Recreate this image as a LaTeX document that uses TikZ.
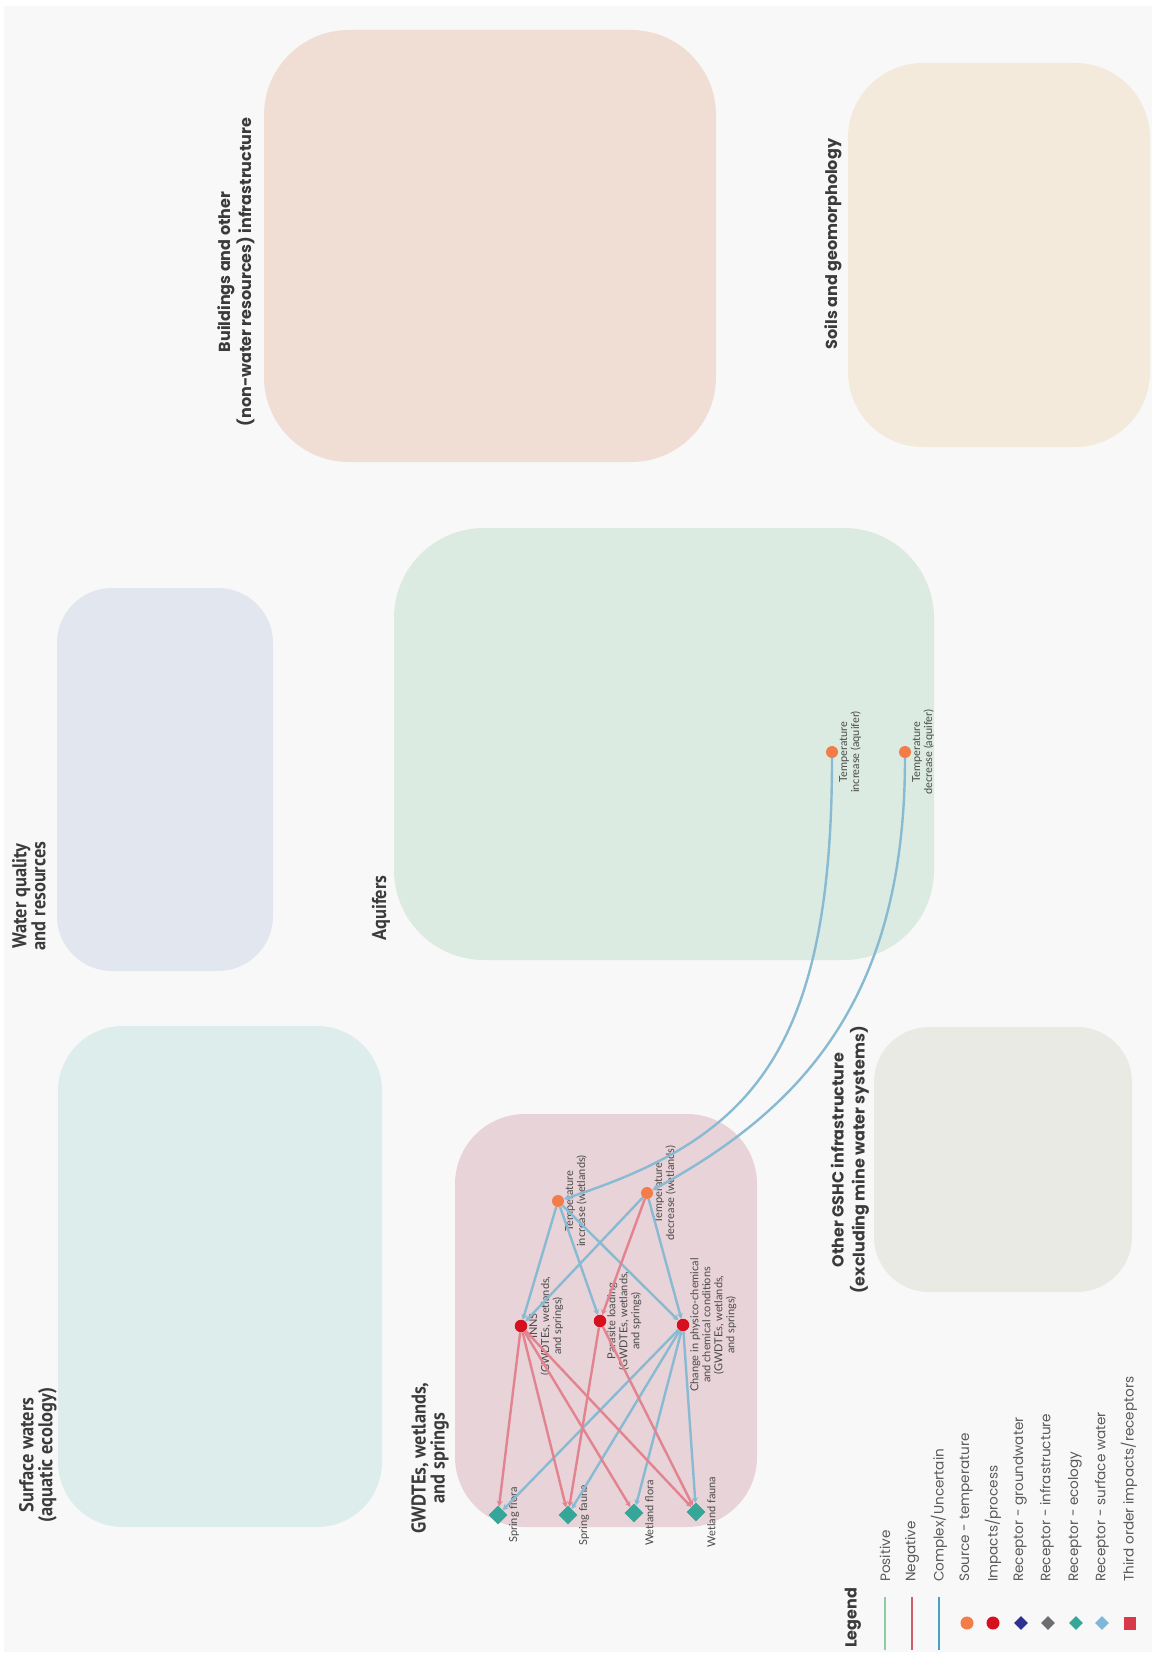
\documentclass[tikz,border=0pt]{standalone}
\usepackage{fontspec}
\usetikzlibrary{shapes.geometric,arrows.meta}
\newfontfamily\geofont{Poppins}
\newfontfamily\condfont{PT Sans}[FakeStretch=0.92]
\newfontfamily\lblfont{Lato}

\definecolor{pagebg}{HTML}{F8F8F8}
\definecolor{headgray}{HTML}{3B3B3B}
\definecolor{nodegray}{HTML}{4A4A4A}
\definecolor{leggray}{HTML}{5A5A5A}
% zone fills
\definecolor{zbuild}{HTML}{F0DDD4}
\definecolor{zsoil}{HTML}{F3EADC}
\definecolor{zwater}{HTML}{E1E6EF}
\definecolor{zaquifer}{HTML}{DCEBE1}
\definecolor{zsurface}{HTML}{DCEDEB}
\definecolor{zgwdte}{HTML}{E8D3D8}
\definecolor{zother}{HTML}{EAEAE5}
% symbols and links
\definecolor{srcorange}{HTML}{F47C48}
\definecolor{impred}{HTML}{D7101F}
\definecolor{gwnavy}{HTML}{2E3192}
\definecolor{infgray}{HTML}{6D6E71}
\definecolor{ecoteal}{HTML}{35A697}
\definecolor{swblue}{HTML}{7FB7D8}
\definecolor{thirdred}{HTML}{D93A4A}
\definecolor{cxblue}{HTML}{88BAD2}
\definecolor{negred}{HTML}{E2838F}
\definecolor{legpos}{HTML}{8CCFA5}
\definecolor{legneg}{HTML}{D45C6A}
\definecolor{legcx}{HTML}{4A9FC6}

\begin{document}
\begin{tikzpicture}[x=1pt,y=-1pt,
  heading/.style={rotate=90, align=center, text=headgray, inner sep=0pt},
  geohead/.style={heading, font=\geofont\bfseries\fontsize{16}{21}\selectfont},
  condhead/.style={heading, font=\condfont\bfseries\fontsize{20}{19}\selectfont},
  source/.style={circle, fill=srcorange, minimum size=12pt, inner sep=0pt},
  impact/.style={circle, fill=impred, minimum size=12.5pt, inner sep=0pt},
  receptor/.style={diamond, aspect=1, fill=ecoteal, minimum size=19pt, inner sep=0pt},
  nlabel/.style={rotate=90, anchor=north, align=center, inner sep=0pt, text=nodegray,
    font=\lblfont\fontsize{11}{12}\selectfont},
  cx/.style={draw=cxblue, line width=2.4pt, -{Stealth[length=5.5pt,width=6pt]}},
  neg/.style={draw=negred, line width=2.4pt, -{Stealth[length=5.5pt,width=6pt]}},
  legtext/.style={rotate=90, anchor=west, inner sep=0pt, text=leggray,
    font=\geofont\fontsize{13.6}{16}\selectfont},
  legline/.style={line width=1.2pt},
  legdot/.style={circle, minimum size=13pt, inner sep=0pt},
  legdia/.style={diamond, aspect=1, minimum size=14pt, inner sep=0pt},
]

% page
\useasboundingbox (0,0) rectangle (1152,1656);
\fill[white] (0,0) rectangle (1152,1656);
\fill[pagebg] (4,6) rectangle (1152,1652);

% zones
\fill[zbuild, rounded corners=85pt] (264,30) rectangle (716,462);
\fill[zsoil, rounded corners=75pt] (848,63) rectangle (1150,447);
\fill[zwater, rounded corners=55pt] (57,588) rectangle (273,971);
\fill[zaquifer, rounded corners=90pt] (394,528) rectangle (934,960);
\fill[zsurface, rounded corners=65pt] (58,1026) rectangle (382,1527);
\fill[zgwdte, rounded corners=70pt] (455,1114) rectangle (757,1527);
\fill[zother, rounded corners=55pt] (874,1027) rectangle (1132,1292);

% zone headings
\node[geohead] (hBuild) at (236,272) {Buildings and other\\(non-water resources) infrastructure};
\node[geohead] (hSoil) at (833,244) {Soils and geomorphology};
\node[condhead] (hWater) at (29,896) {Water quality\\and resources};
\node[condhead] (hAquifer) at (381,908) {Aquifers};
\node[condhead] (hSurface) at (38,1455) {Surface waters\\(aquatic ecology)};
\node[condhead] (hGwdte) at (430,1458) {GWDTEs, wetlands,\\and springs};
\node[geohead] (hOther) at (850,1160) {Other GSHC infrastructure\\(excluding mine water systems)};

% sources in the aquifer
\node[source] (TIa) at (832,752) {};
\node[source] (TDa) at (905,752) {};
\node[nlabel] (TIaL) at ([xshift=7pt]TIa.center) {Temperature\\increase (aquifer)};
\node[nlabel] (TDaL) at ([xshift=7pt]TDa.center) {Temperature\\decrease (aquifer)};

% sources in GWDTEs
\node[source] (TIw) at (558,1201) {};
\node[source] (TDw) at (647,1193) {};
\node[nlabel] (TIwL) at ([xshift=7pt]TIw.center) {Temperature\\increase (wetlands)};
\node[nlabel] (TDwL) at ([xshift=7pt]TDw.center) {Temperature\\decrease (wetlands)};

% impacts
\node[impact] (INNS) at (521,1326) {};
\node[impact] (PL) at (600,1321) {};
\node[impact] (CPC) at (683,1325) {};
\node[nlabel] (INNSL) at ([xshift=8pt]INNS.center) {INNS\\(GWDTEs, wetlands,\\and springs)};
\node[nlabel] (PLL) at ([xshift=7pt]PL.center) {Parasite loading\\(GWDTEs, wetlands,\\and springs)};
\node[nlabel] (CPCL) at ([xshift=7pt]CPC.center) {Change in physico-chemical\\and chemical conditions\\(GWDTEs, wetlands,\\and springs)};

% ecological receptors
\node[receptor] (SFl) at (498,1515) {};
\node[receptor] (SFa) at (568,1515) {};
\node[receptor] (WFl) at (634,1513) {};
\node[receptor] (WFa) at (696,1512) {};
\node[nlabel] (SFlL) at ([xshift=11pt]SFl.center) {Spring flora};
\node[nlabel] (SFaL) at ([xshift=11pt]SFa.center) {Spring fauna};
\node[nlabel] (WFlL) at ([xshift=11pt]WFl.center) {Wetland flora};
\node[nlabel] (WFaL) at ([xshift=11pt]WFa.center) {Wetland fauna};

% aquifer to wetland links
\draw[cx] (TIa) .. controls (832,1060) and (745,1140) .. (TIw);
\draw[cx] (TDa) .. controls (905,1000) and (800,1110) .. (TDw);

% source to impact links
\draw[cx] (TIw) -- (INNS);
\draw[cx] (TIw) -- (PL);
\draw[cx] (TIw) -- (CPC);
\draw[cx] (TDw) -- (INNS);
\draw[neg] (TDw) -- (PL);
\draw[cx] (TDw) -- (CPC);

% impact to receptor links
\draw[cx] (CPC) -- (SFl);
\draw[cx] (CPC) -- (SFa);
\draw[cx] (CPC) -- (WFl);
\draw[cx] (CPC) -- (WFa);
\draw[neg] (INNS) -- (SFl);
\draw[neg] (INNS) -- (SFa);
\draw[neg] (INNS) -- (WFl);
\draw[neg] (INNS) -- (WFa);
\draw[neg] (PL) -- (SFa);
\draw[neg] (PL) -- (WFa);

% legend
\node[rotate=90, inner sep=0pt, text=headgray, font=\geofont\bfseries\fontsize{16}{20}\selectfont] (legTitle) at (853,1618) {Legend};
\coordinate (lp1) at (885,1597); \coordinate (lp2) at (885,1650);
\coordinate (ln1) at (912,1597); \coordinate (ln2) at (912,1650);
\coordinate (lc1) at (939,1597); \coordinate (lc2) at (939,1650);
\draw[legline, legpos] (lp1) -- (lp2);
\draw[legline, legneg] (ln1) -- (ln2);
\draw[legline, legcx] (lc1) -- (lc2);
\node[legdot, fill=srcorange] (lgSrc) at (967,1623) {};
\node[legdot, fill=impred] (lgImp) at (993,1623) {};
\node[legdia, fill=gwnavy] (lgGw) at (1021,1623) {};
\node[legdia, fill=infgray] (lgInf) at (1048,1623) {};
\node[legdia, fill=ecoteal] (lgEco) at (1076,1623) {};
\node[legdia, fill=swblue] (lgSw) at (1102,1623) {};
\node[fill=thirdred, minimum width=12pt, minimum height=13pt, inner sep=0pt] (lgThird) at (1130,1623) {};

\node[legtext] (ltPos) at (885,1582) {Positive};
\node[legtext] (ltNeg) at (912,1582) {Negative};
\node[legtext] (ltCx) at (939,1582) {Complex/Uncertain};
\node[legtext] (ltSrc) at (966,1582) {Source - temperature};
\node[legtext] (ltImp) at (993,1582) {Impacts/process};
\node[legtext] (ltGw) at (1020,1582) {Receptor - groundwater};
\node[legtext] (ltInf) at (1047,1582) {Receptor - infrastructure};
\node[legtext] (ltEco) at (1075,1582) {Receptor - ecology};
\node[legtext] (ltSw) at (1102,1582) {Receptor - surface water};
\node[legtext] (ltThird) at (1129,1582) {Third order impacts/receptors};
\end{tikzpicture}
\end{document}
